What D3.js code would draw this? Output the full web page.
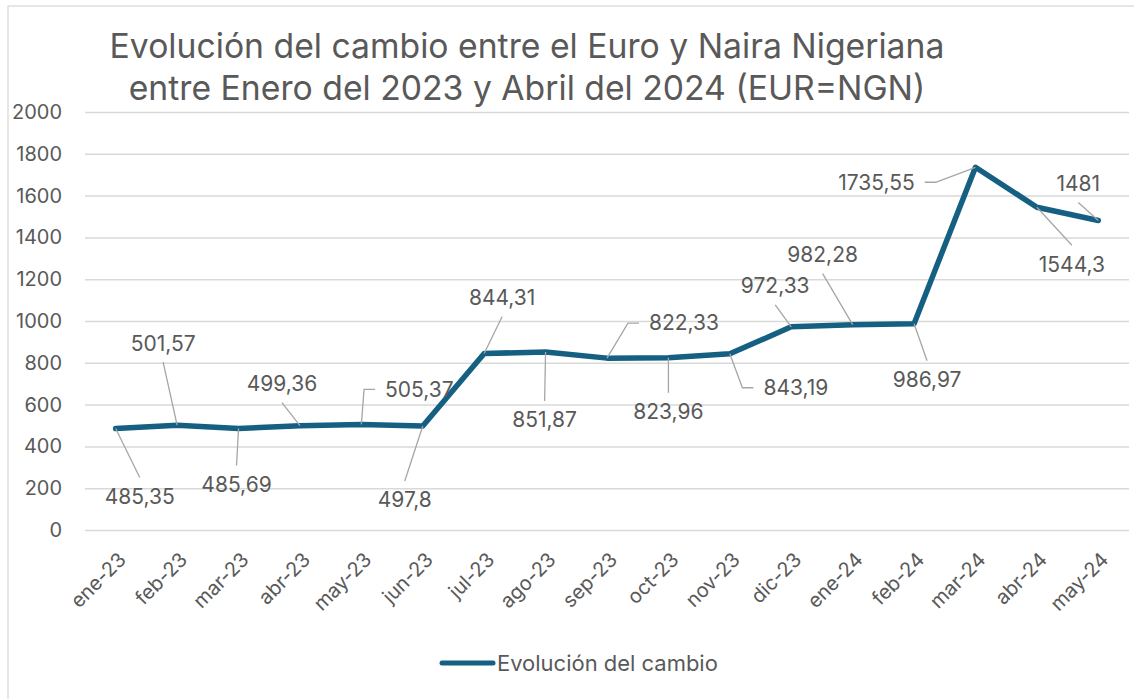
<!DOCTYPE html>
<html><head><meta charset="utf-8">
<script src="https://cdn.jsdelivr.net/npm/d3@7"></script>
<style>body{margin:0;background:#fff;} svg{display:block;}</style>
</head><body><svg id="c" width="1134" height="699"></svg>
<script>
// ---- data ----
const categories = ["ene-23","feb-23","mar-23","abr-23","may-23","jun-23","jul-23","ago-23","sep-23","oct-23","nov-23","dic-23","ene-24","feb-24","mar-24","abr-24","may-24"];
const values = [485.35, 501.57, 485.69, 499.36, 505.37, 497.8, 844.31, 851.87, 822.33, 823.96, 843.19, 972.33, 982.28, 986.97, 1735.55, 1544.3, 1481];
const yTicks = [0, 200, 400, 600, 800, 1000, 1200, 1400, 1600, 1800, 2000];
const seriesName = "Evolución del cambio";
const titleLines = ["Evolución del cambio entre el Euro y Naira Nigeriana", "entre Enero del 2023 y Abril del 2024 (EUR=NGN)"];
// data label placement (offset of label centre from its point, px)
const labelOffsets = [[24,68],[-14,-82],[-2,56],[-18,-42],[58,-35],[-18,74],[18,-56],[-1,68],[77,-35],[0,54],[66,34],[-16,-41],[-30,-70],[13,56],[-99,15],[35,57],[-20,-37]];

// ---- layout ----
const FONT = "Inter, 'Liberation Sans', Arial, sans-serif";
const TEXT = "#595959", GRID = "#d9d9d9", LINE = "#156082", LEADER = "#a6a6a6";
const svg = d3.select("#c");
const x = d3.scalePoint().domain(categories).range([85, 1129]).padding(0.5);
const y = d3.scaleLinear().domain([0, 2000]).range([530, 112]);

function fitSize(text, target, base) {
  const t = svg.append("text").attr("font-family", FONT).attr("font-size", base).text(text);
  const w = t.node().getComputedTextLength(); t.remove();
  return base * target / w;
}

// chart border
svg.append("rect").attr("x", 8).attr("y", 6).attr("width", 1200).attr("height", 800)
  .attr("fill", "none").attr("stroke", GRID).attr("stroke-width", 1.3);

// title
const tSize = fitSize(titleLines[0], 835, 30);
svg.append("g").selectAll("text").data(titleLines).join("text")
  .attr("x", 527).attr("y", (d, i) => 58 + i * 42)
  .attr("text-anchor", "middle").attr("font-family", FONT).attr("font-size", tSize)
  .attr("fill", TEXT).text(d => d);

// gridlines + y axis
const tickSize = fitSize("2000", 50, 20);
const yAxis = d3.axisLeft(y).tickValues(yTicks).tickSize(-(1129 - 85)).tickPadding(23).tickFormat(d3.format("d"));
const gy = svg.append("g").attr("transform", "translate(85,0)").call(yAxis);
gy.select(".domain").remove();
gy.selectAll(".tick line").attr("stroke", GRID).attr("stroke-width", 1.5);
gy.selectAll(".tick text").attr("font-family", FONT).attr("font-size", tickSize).attr("fill", TEXT);

// x axis labels
const xAxis = d3.axisBottom(x).tickSize(0).tickPadding(0);
const gx = svg.append("g").attr("transform", "translate(0,530)").call(xAxis);
gx.select(".domain").remove();
gx.selectAll(".tick text")
  .attr("font-family", FONT).attr("font-size", tickSize).attr("fill", TEXT)
  .attr("text-anchor", "end").attr("dy", "0.35em").attr("y", 0)
  .attr("transform", "translate(6,26) rotate(-45)");

// line
const line = d3.line().x((d, i) => x(categories[i])).y(d => y(d));
svg.append("path").datum(values).attr("d", line)
  .attr("fill", "none").attr("stroke", LINE).attr("stroke-width", 5.5)
  .attr("stroke-linejoin", "round").attr("stroke-linecap", "round");

// data labels with leader lines
const fmt = v => String(v).replace(".", ",");
const lblSize = fitSize("485,35", 70, 20);
const gl = svg.append("g");
values.forEach((v, i) => {
  const px = x(categories[i]), py = y(v);
  const lx = px + labelOffsets[i][0], ly = py + labelOffsets[i][1];
  const t = gl.append("text").attr("x", lx).attr("y", ly).attr("dy", "0.35em")
    .attr("text-anchor", "middle").attr("font-family", FONT).attr("font-size", lblSize)
    .attr("fill", TEXT).text(fmt(v));
  const hw = t.node().getComputedTextLength() / 2;
  let pts;
  if (Math.abs(lx - px) > hw + 6) {
    const s = lx > px ? -1 : 1;
    const edge = lx + s * hw;
    pts = [[px, py], [edge + s * 21, ly], [edge + s * 10, ly]];
  } else {
    const ey = ly < py ? ly + 19 : ly - 19;
    pts = [[px, py], [lx, ey]];
  }
  gl.insert("path", "text").attr("d", d3.line()(pts)).attr("fill", "none")
    .attr("stroke", LEADER).attr("stroke-width", 1.3);
});

// legend
const legSize = fitSize(seriesName, 221, 20);
svg.append("line").attr("x1", 442).attr("x2", 493).attr("y1", 663).attr("y2", 663)
  .attr("stroke", LINE).attr("stroke-width", 5).attr("stroke-linecap", "round");
svg.append("text").attr("x", 497).attr("y", 663).attr("dy", "0.35em")
  .attr("font-family", FONT).attr("font-size", legSize).attr("fill", TEXT).text(seriesName);
</script></body></html>
